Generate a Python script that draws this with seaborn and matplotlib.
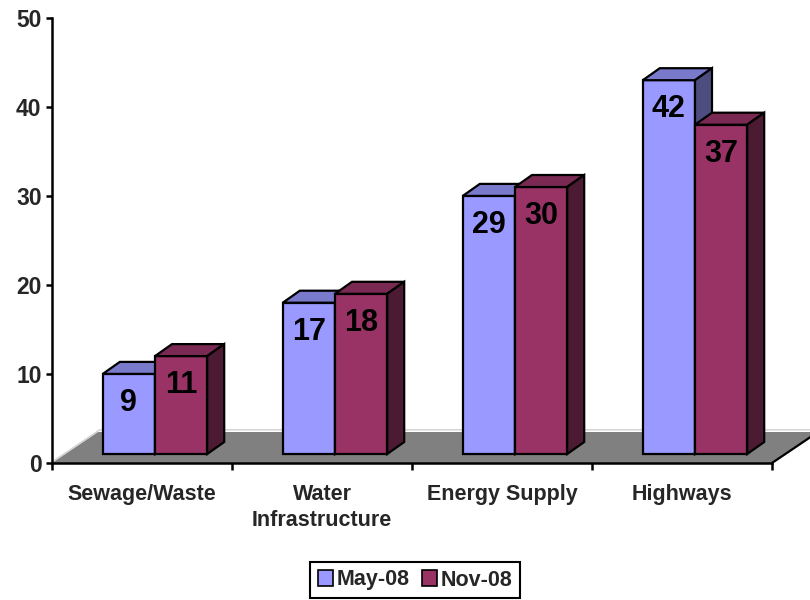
import numpy as np
import pandas as pd
import matplotlib
matplotlib.use("Agg")
import matplotlib.pyplot as plt
from matplotlib.patches import Polygon, Patch
from matplotlib.lines import Line2D
from matplotlib.transforms import ScaledTranslation
import seaborn as sns

# ---- data ----
categories = ["Sewage/Waste", "Water\nInfrastructure", "Energy Supply", "Highways"]
periods = ["May-08", "Nov-08"]
may_08 = [9, 17, 29, 42]
nov_08 = [11, 18, 30, 37]
y_ticks = [0, 10, 20, 30, 40, 50]

front_colors = {"May-08": "#9999FF", "Nov-08": "#993366"}
top_colors = {"May-08": "#7A7ACC", "Nov-08": "#7A2952"}
side_colors = {"May-08": "#4D4D80", "Nov-08": "#4D1A33"}

df = pd.DataFrame({
    "category": categories * 2,
    "period": [periods[0]] * len(categories) + [periods[1]] * len(categories),
    "value": may_08 + nov_08,
})

sns.set_theme(style="white")
plt.rcParams["font.family"] = ["Liberation Sans", "DejaVu Sans"]
plt.rcParams["font.weight"] = "bold"

DPI = 100
fig = plt.figure(figsize=(8.1, 6.0), dpi=DPI)
ax = fig.add_axes([52 / 810, 137 / 600, 720 / 810, 445 / 600])

sns.barplot(data=df, x="category", y="value", hue="period", hue_order=periods,
            palette=front_colors, width=0.58, saturation=1, edgecolor="black",
            linewidth=1.6, errorbar=None, legend=False, ax=ax)

ax.set_xlim(-0.5, len(categories) - 0.5)
ax.set_ylim(0, 50)

# pixel -> data unit conversion for the pseudo-3D depth
p0 = ax.transData.transform((0, 0))
p1 = ax.transData.transform((1, 1))
px_x = p1[0] - p0[0]
px_y = p1[1] - p0[1]

# floor depth (pixels) and position of bars inside it
FLOOR_DX, FLOOR_DY = 46, 31
BAR_SHIFT_X, BAR_SHIFT_Y = 13, 9
BAR_DX, BAR_DY = 17, 12

fdx, fdy = FLOOR_DX / px_x, FLOOR_DY / px_y
bdx, bdy = BAR_DX / px_x, BAR_DY / px_y
x_lo, x_hi = ax.get_xlim()

floor = Polygon([(x_lo, 0), (x_hi, 0), (x_hi + fdx, fdy), (x_lo + fdx, fdy)],
                closed=True, facecolor="#808080", edgecolor="none",
                zorder=1, clip_on=False)
ax.add_patch(floor)
ax.add_line(Line2D([x_lo + 0.01, x_lo + fdx + 0.01, x_hi + fdx + 0.3],
                   [0.25, fdy + 0.25, fdy + 0.25], color="#D0D0D0", lw=1.0,
                   zorder=1.1, clip_on=False))
ax.add_line(Line2D([x_hi, x_hi + fdx], [0, fdy], color="black", lw=1.6,
                   zorder=1.2, clip_on=False))

shift = ax.transData + ScaledTranslation(BAR_SHIFT_X / DPI, BAR_SHIFT_Y / DPI,
                                         fig.dpi_scale_trans)

for h, (period, container) in enumerate(zip(periods, ax.containers)):
    z = 3 + h
    for bar in container.patches:
        x0 = bar.get_x()
        w = bar.get_width()
        v = bar.get_height()
        x1 = x0 + w
        bar.set_transform(shift)
        bar.set_zorder(z)
        top = Polygon([(x0, v), (x1, v), (x1 + bdx, v + bdy), (x0 + bdx, v + bdy)],
                      closed=True, facecolor=top_colors[period], edgecolor="black",
                      linewidth=1.6, transform=shift, zorder=z, clip_on=False,
                      joinstyle="miter")
        side = Polygon([(x1, 0), (x1 + bdx, bdy), (x1 + bdx, v + bdy), (x1, v)],
                       closed=True, facecolor=side_colors[period], edgecolor="black",
                       linewidth=1.6, transform=shift, zorder=z, clip_on=False,
                       joinstyle="miter")
        ax.add_patch(top)
        ax.add_patch(side)
        ax.annotate(f"{v:g}", xy=(x0 + w / 2, v), xytext=(BAR_SHIFT_X, BAR_SHIFT_Y - 29),
                    textcoords="offset pixels", ha="center", va="center",
                    fontsize=22, fontweight="bold", color="black", zorder=10)

# axes styling
sns.despine(ax=ax)
for s in ("left", "bottom"):
    ax.spines[s].set_linewidth(1.8)
    ax.spines[s].set_color("black")
    ax.spines[s].set_zorder(2)

ax.set_yticks(y_ticks)
ax.set_yticklabels([str(t) for t in y_ticks], fontsize=16.5, fontweight="bold")
ax.tick_params(axis="y", which="major", direction="out", length=4.5, width=1.8,
               color="black", pad=3, left=True)

ax.set_xticks(np.arange(len(categories) + 1) - 0.5)
ax.set_xticklabels([""] * (len(categories) + 1))
ax.set_xticks(np.arange(len(categories)), minor=True)
ax.set_xticklabels(categories, minor=True, fontsize=15.5, fontweight="bold",
                   linespacing=1.3)
ax.tick_params(axis="x", which="major", direction="out", length=5, width=1.8,
               color="black", bottom=True)
ax.tick_params(axis="x", which="minor", length=0, pad=15, bottom=True)
ax.set_xlabel("")
ax.set_ylabel("")
ax.grid(False)

handles = [Patch(facecolor=front_colors[p], edgecolor="black", linewidth=1.2)
           for p in periods]
leg = fig.legend(handles, periods, loc="center", bbox_to_anchor=(415 / 810, 1 - 580 / 600),
                 ncol=2, frameon=True, fancybox=False, framealpha=1, edgecolor="black",
                 handlelength=0.7, handleheight=0.7, handletextpad=0.15,
                 columnspacing=0.6, borderpad=0.35, borderaxespad=0,
                 prop={"size": 15.5, "weight": "bold"})
leg.get_frame().set_linewidth(1.5)

fig.savefig("out.png", dpi=DPI)
